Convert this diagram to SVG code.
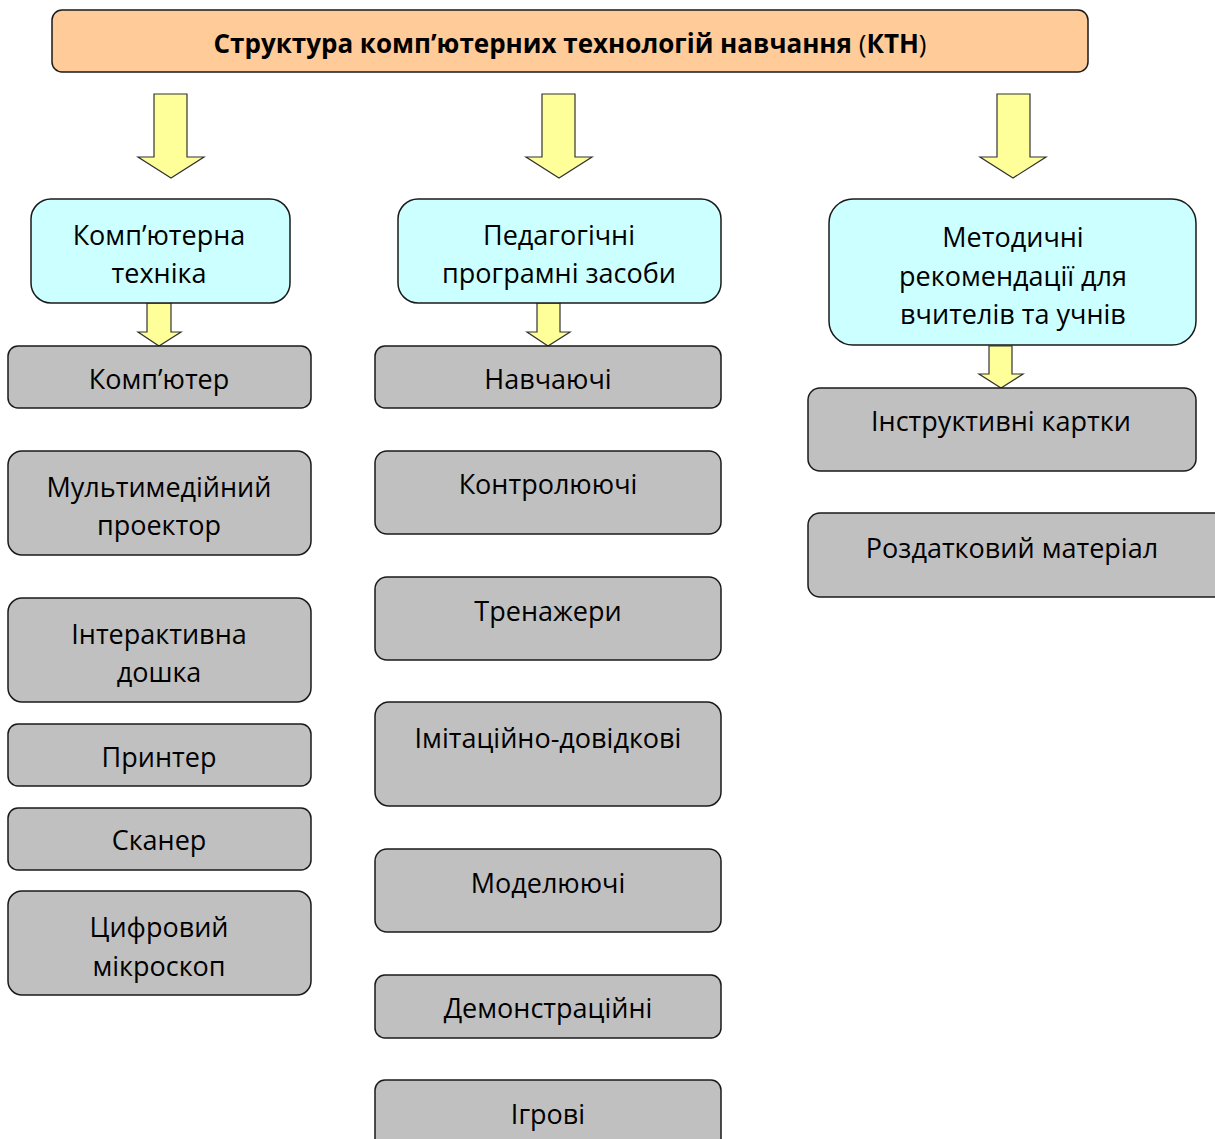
<svg xmlns="http://www.w3.org/2000/svg" width="1215" height="1139" viewBox="0 0 1215 1139">
<style>
.box{stroke:#1a1a1a;stroke-width:1.5}
.t{fill:#ffcc99}
.c{fill:#ccffff}
.g{fill:#c0c0c0}
.arr{fill:#ffff99;stroke:#333;stroke-width:1.2;stroke-linejoin:miter}
text{font-family:"Open Sans","Noto Sans","DejaVu Sans",sans-serif;font-size:27px;fill:#000;text-anchor:middle}
.b{font-weight:bold;font-size:26px}
</style>
<rect width="1215" height="1139" fill="#fff"/>
<g id="connectors">
<polygon class="arr" points="154,94 187,94 187,157 204,157 171,178 138,157 154,157"/>
<polygon class="arr" points="542,94 575,94 575,157 592,157 559,178 526,157 542,157"/>
<polygon class="arr" points="997,94 1030,94 1030,157 1046,157 1013,178 980,157 997,157"/>
<polygon class="arr" points="147,303 171,303 171,332 181,332 159,346 138,332 147,332"/>
<polygon class="arr" points="537,303 560,303 560,332 570,332 548,346 527,332 537,332"/>
<polygon class="arr" points="989,346 1012,346 1012,374 1023,374 1001,388 979,374 989,374"/>
</g>
<g id="title"><rect class="box t" x="52" y="10" width="1036" height="62" rx="10"/><text x="570" y="53" class="b">Структура комп’ютерних технологій навчання <tspan font-weight="normal">(</tspan>КТН<tspan font-weight="normal">)</tspan></text></g>
<g id="n-tech"><rect class="box c" x="31" y="199" width="259" height="104" rx="20"/><text x="159" y="245">Комп’ютерна</text><text x="159" y="283">техніка</text></g>
<g id="n-ped"><rect class="box c" x="398" y="199" width="323" height="104" rx="20"/><text x="559" y="245">Педагогічні</text><text x="559" y="283">програмні засоби</text></g>
<g id="n-met"><rect class="box c" x="829" y="199" width="367" height="146" rx="24"/><text x="1013" y="247">Методичні</text><text x="1013" y="286">рекомендації для</text><text x="1013" y="324">вчителів та учнів</text></g>
<g id="n-comp"><rect class="box g" x="8" y="346" width="303" height="62" rx="10"/><text x="159" y="389">Комп’ютер</text></g>
<g id="n-proj"><rect class="box g" x="8" y="451" width="303" height="104" rx="14"/><text x="159" y="497">Мультимедійний</text><text x="159" y="535">проектор</text></g>
<g id="n-board"><rect class="box g" x="8" y="598" width="303" height="104" rx="14"/><text x="159" y="644">Інтерактивна</text><text x="159" y="682">дошка</text></g>
<g id="n-print"><rect class="box g" x="8" y="724" width="303" height="62" rx="10"/><text x="159" y="767">Принтер</text></g>
<g id="n-scan"><rect class="box g" x="8" y="808" width="303" height="62" rx="10"/><text x="159" y="850">Сканер</text></g>
<g id="n-micro"><rect class="box g" x="8" y="891" width="303" height="104" rx="14"/><text x="159" y="937">Цифровий</text><text x="159" y="976">мікроскоп</text></g>
<g id="n-learn"><rect class="box g" x="375" y="346" width="346" height="62" rx="10"/><text x="548" y="389">Навчаючі</text></g>
<g id="n-ctrl"><rect class="box g" x="375" y="451" width="346" height="83" rx="12"/><text x="548" y="494">Контролюючі</text></g>
<g id="n-train"><rect class="box g" x="375" y="577" width="346" height="83" rx="12"/><text x="548" y="621">Тренажери</text></g>
<g id="n-imit"><rect class="box g" x="375" y="702" width="346" height="104" rx="14"/><text x="548" y="748">Імітаційно-довідкові</text></g>
<g id="n-model"><rect class="box g" x="375" y="849" width="346" height="83" rx="12"/><text x="548" y="893">Моделюючі</text></g>
<g id="n-demo"><rect class="box g" x="375" y="975" width="346" height="63" rx="10"/><text x="548" y="1018">Демонстраційні</text></g>
<g id="n-game"><rect class="box g" x="375" y="1080" width="346" height="70" rx="10"/><text x="548" y="1124">Ігрові</text></g>
<g id="n-instr"><rect class="box g" x="808" y="388" width="388" height="83" rx="12"/><text x="1001" y="431">Інструктивні картки</text></g>
<g id="n-hand"><rect class="box g" x="808" y="513" width="420" height="84" rx="12"/><text x="1012" y="558">Роздатковий матеріал</text></g>
</svg>
